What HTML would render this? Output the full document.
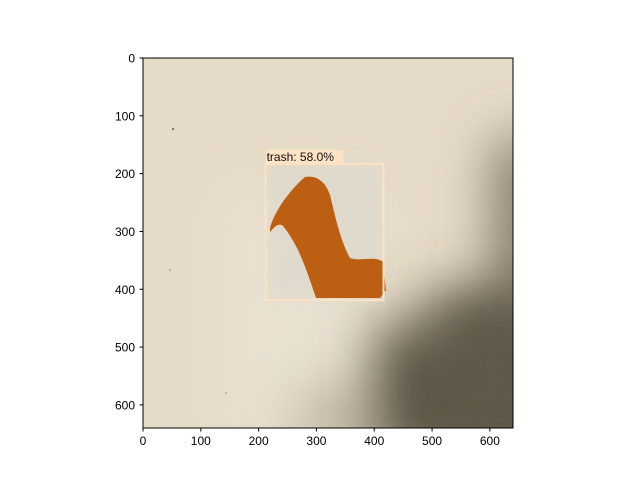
<!DOCTYPE html>
<html><head><meta charset="utf-8"><style>
html,body{margin:0;background:#fff;width:640px;height:480px;overflow:hidden;}
svg{display:block;font-family:"Liberation Sans",sans-serif;}
</style></head><body>
<svg id="c" width="640" height="480">
<defs>
<filter id="blur" filterUnits="userSpaceOnUse" x="0" y="0" width="700" height="600"><feGaussianBlur stdDeviation="28"/></filter>
<filter id="blur2" filterUnits="userSpaceOnUse" x="0" y="0" width="700" height="600"><feGaussianBlur stdDeviation="8"/></filter>
<clipPath id="clip"><rect x="143" y="58" width="370" height="370"/></clipPath>
</defs>
<g clip-path="url(#clip)">
<rect x="143" y="58" width="370" height="370" fill="#e6dbc8"/>
<rect x="230" y="200" width="140" height="230" fill="#ece5d8" filter="url(#blur)" opacity="0.6"/>
<rect x="300" y="390" width="80" height="60" fill="#a89d88" filter="url(#blur)" opacity="0.7"/>
<rect x="495" y="140" width="60" height="300" fill="#7a705f" filter="url(#blur)"/>
<rect x="375" y="325" width="190" height="140" fill="#5a5242" filter="url(#blur)"/>
<rect x="430" y="290" width="120" height="160" fill="#605848" filter="url(#blur)"/>
<rect x="268" y="166" width="114" height="133" fill="#dcd8cc" filter="url(#blur2)" opacity="0.7"/>
<path d="M270,228 C275,210 290,190 305,177 C315,175 325,180 330,195 C335,215 340,240 350,258 C360,262 375,255 383,262 L386,290 L380,298 L316,298 C310,280 305,265 298,250 C293,240 288,232 283,226 C278,222 274,228 270,232 Z" fill="#bd5f12"/>
<circle cx="173" cy="129" r="1.2" fill="#777"/>
<circle cx="170" cy="270" r="0.8" fill="#888"/>
<circle cx="226" cy="393" r="0.8" fill="#888"/>
</g>
<g id="det"></g>
<rect x="143" y="58" width="370" height="370" fill="none" stroke="#000" stroke-width="1"/>
<g id="ticks"></g>
</svg>
<script>
const ticks=[0,100,200,300,400,500,600];
const box=[212,183,416,419];
const labels=["trash: 58.0%"];
const X0=143,Y0=58,S=370/640;
const sx=v=>X0+v*S, sy=v=>Y0+v*S;
const NS="http://www.w3.org/2000/svg";
const tg=document.getElementById('ticks');
function mk(t,a,p){const e=document.createElementNS(NS,t);for(const k in a)e.setAttribute(k,a[k]);p.appendChild(e);return e;}
ticks.forEach(v=>{
 const l1=mk('line',{x1:sx(v),x2:sx(v),y1:428,y2:431.5,stroke:'#000'},tg);
 
 
 const t1=mk('text',{x:sx(v),y:445,'text-anchor':'middle','font-size':'12'},tg);t1.textContent=v;
 
 
 const l2=mk('line',{x1:139.5,x2:143,y1:sy(v),y2:sy(v),stroke:'#000'},tg);
 
 
 const t2=mk('text',{x:135,y:sy(v)+4.5,'text-anchor':'end','font-size':'12'},tg);t2.textContent=v;
 
 
});
const dg=document.getElementById('det');
const r=mk('rect',{x:sx(box[0]),y:sy(box[1]),width:sx(box[2])-sx(box[0]),height:sy(box[3])-sy(box[1]),fill:'none',stroke:'#fde3c5','stroke-width':2},dg);


const bg=mk('rect',{x:sx(box[0]),y:sy(box[1])-14,width:78,height:14,fill:'#fde3c5'},dg);


const lt=mk('text',{x:sx(box[0])+1,y:sy(box[1])-3,'font-size':'12',fill:'#111'},dg);lt.textContent=labels[0];


</script>
</body></html>
